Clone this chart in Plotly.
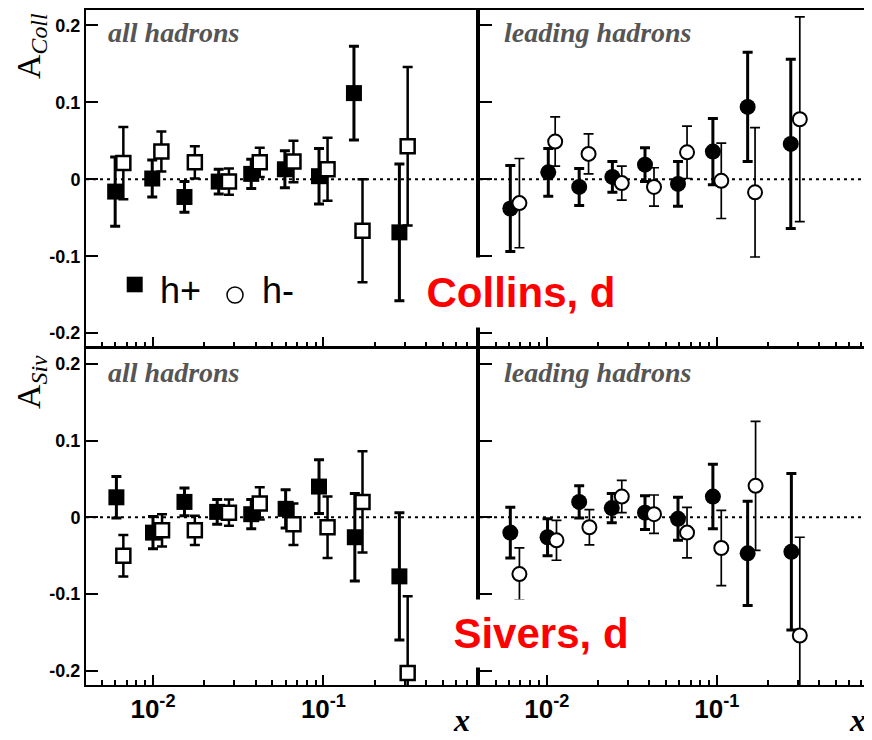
import plotly.graph_objects as go

# ---------------- data ----------------
# Collins asymmetry, all hadrons (squares)
coll_all_x_pos = [0.0060, 0.0099, 0.0153, 0.0243, 0.0377, 0.0594, 0.0942, 0.151, 0.279]
coll_all_y_pos = [-0.016, 0.001, -0.023, -0.003, 0.007, 0.013, 0.004, 0.112, -0.069]
coll_all_e_pos = [0.045, 0.024, 0.020, 0.016, 0.019, 0.024, 0.036, 0.061, 0.089]
coll_all_x_neg = [0.0067, 0.0112, 0.0176, 0.0279, 0.0423, 0.0667, 0.1057, 0.1695, 0.312]
coll_all_y_neg = [0.021, 0.036, 0.022, -0.003, 0.022, 0.023, 0.013, -0.067, 0.043]
coll_all_e_neg = [0.047, 0.026, 0.021, 0.017, 0.019, 0.027, 0.041, 0.067, 0.103]

# Collins asymmetry, leading hadrons (circles)
coll_lead_x_pos = [0.0061, 0.0102, 0.0155, 0.0243, 0.0378, 0.0591, 0.0948, 0.1518, 0.2722]
coll_lead_y_pos = [-0.038, 0.009, -0.010, 0.003, 0.019, -0.006, 0.036, 0.094, 0.046]
coll_lead_e_pos = [0.056, 0.031, 0.024, 0.020, 0.022, 0.029, 0.043, 0.071, 0.110]
coll_lead_x_neg = [0.0069, 0.0112, 0.0176, 0.0276, 0.0427, 0.0668, 0.1062, 0.1678, 0.3076]
coll_lead_y_neg = [-0.031, 0.049, 0.033, -0.005, -0.010, 0.035, -0.002, -0.017, 0.078]
coll_lead_e_neg = [0.058, 0.032, 0.026, 0.022, 0.025, 0.034, 0.049, 0.084, 0.133]

# Sivers asymmetry, all hadrons (squares)
siv_all_x_pos = [0.0061, 0.0100, 0.0153, 0.0238, 0.0377, 0.0600, 0.0942, 0.1528, 0.279]
siv_all_y_pos = [0.026, -0.020, 0.020, 0.007, 0.004, 0.011, 0.040, -0.026, -0.077]
siv_all_e_pos = [0.027, 0.021, 0.018, 0.016, 0.019, 0.025, 0.035, 0.057, 0.083]
siv_all_x_neg = [0.0067, 0.0113, 0.0176, 0.0279, 0.0423, 0.0667, 0.1057, 0.1695, 0.312]
siv_all_y_neg = [-0.050, -0.017, -0.017, 0.006, 0.018, -0.009, -0.013, 0.020, -0.203]
siv_all_e_neg = [0.027, 0.021, 0.019, 0.017, 0.021, 0.027, 0.040, 0.066, 0.100]

# Sivers asymmetry, leading hadrons (circles)
siv_lead_x_pos = [0.0061, 0.0101, 0.0155, 0.0241, 0.0378, 0.0591, 0.0948, 0.1518, 0.2744]
siv_lead_y_pos = [-0.020, -0.026, 0.020, 0.012, 0.006, -0.002, 0.027, -0.047, -0.045]
siv_lead_e_pos = [0.033, 0.024, 0.021, 0.019, 0.022, 0.028, 0.042, 0.068, 0.102]
siv_lead_x_neg = [0.0069, 0.0114, 0.0178, 0.0276, 0.0427, 0.0668, 0.1062, 0.169, 0.3076]
siv_lead_y_neg = [-0.074, -0.030, -0.013, 0.027, 0.004, -0.020, -0.040, 0.041, -0.154]
siv_lead_e_neg = [0.034, 0.026, 0.023, 0.021, 0.025, 0.033, 0.049, 0.084, 0.128]

y_tick_vals = [-0.2, -0.1, 0, 0.1, 0.2]
y_tick_text = ["-0.2", "-0.1", "0", "0.1", "0.2"]
x_tick_vals = [0.01, 0.1]
x_tick_text = ["10<sup>-2</sup>", "10<sup>-1</sup>"]
x_minor_vals = [0.004, 0.005, 0.006, 0.007, 0.008, 0.009,
                0.02, 0.03, 0.04, 0.05, 0.06, 0.07, 0.08, 0.09,
                0.2, 0.3, 0.4, 0.5, 0.6, 0.7]

panel_labels = ["all hadrons", "leading hadrons", "all hadrons", "leading hadrons"]

# ---------------- layout helpers ----------------
# the page body has an 8px margin: figure is placed at (8, 8) in the window
OFF = 8
W, H = 864, 732


def fx(p):
    return (p - OFF) / W


def fy(p):
    return 1 - (p - OFF) / H


fig = go.Figure()

panels = [
    ("", True, coll_all_x_pos, coll_all_y_pos, coll_all_e_pos, coll_all_x_neg, coll_all_y_neg, coll_all_e_neg),
    ("2", False, coll_lead_x_pos, coll_lead_y_pos, coll_lead_e_pos, coll_lead_x_neg, coll_lead_y_neg, coll_lead_e_neg),
    ("3", True, siv_all_x_pos, siv_all_y_pos, siv_all_e_pos, siv_all_x_neg, siv_all_y_neg, siv_all_e_neg),
    ("4", False, siv_lead_x_pos, siv_lead_y_pos, siv_lead_e_pos, siv_lead_x_neg, siv_lead_y_neg, siv_lead_e_neg),
]

for suf, sq, xp, yp, ep, xn, yn, en in panels:
    sym = "square" if sq else "circle"
    fig.add_trace(go.Scatter(
        x=xp, y=yp, mode="markers", xaxis="x" + suf, yaxis="y" + suf,
        marker=dict(symbol=sym, size=16, color="black", line=dict(width=0)),
        error_y=dict(type="data", array=ep, visible=True, color="black", thickness=3, width=5),
        showlegend=False))
    fig.add_trace(go.Scatter(
        x=xn, y=yn, mode="markers", xaxis="x" + suf, yaxis="y" + suf,
        marker=dict(symbol=sym, size=14, color="white",
                    line=dict(width=2.5 if sq else 2, color="black")),
        error_y=dict(type="data", array=en, visible=True, color="black",
                     thickness=2.5 if sq else 1.7, width=5),
        showlegend=False))

xdoms = {"L": [fx(86), fx(476)], "R": [fx(480), fx(869)]}
ydoms = {"T": [fy(347), fy(10)], "B": [fy(685), fy(348)]}
yranges = {"T": [-0.218, 0.22], "B": [-0.2185, 0.2205]}

cfg = {"": ("L", "T"), "2": ("R", "T"), "3": ("L", "B"), "4": ("R", "B")}

layout = {}
for suf, (cx, cy) in cfg.items():
    layout["xaxis" + suf] = dict(
        type="log", range=[-2.393, -0.105], domain=xdoms[cx], anchor="y" + suf,
        showline=True, linewidth=2, linecolor="black", mirror=True,
        ticks="inside", ticklen=10, tickwidth=2, tickcolor="black",
        tickmode="array", tickvals=x_tick_vals, ticktext=x_tick_text,
        showticklabels=(cy == "B"),
        tickfont=dict(family="Liberation Sans", size=26, color="black", weight="bold"),
        minor=dict(tickmode="array", tickvals=x_minor_vals, ticks="inside", ticklen=5,
                   tickwidth=2, tickcolor="black", showgrid=False),
        showgrid=False, zeroline=False, fixedrange=True)
    layout["yaxis" + suf] = dict(
        range=yranges[cy], domain=ydoms[cy], anchor="x" + suf,
        showline=True, linewidth=2, linecolor="black", mirror=True,
        ticks="inside", ticklen=12, tickwidth=2, tickcolor="black",
        tickmode="array", tickvals=y_tick_vals, ticktext=y_tick_text,
        showticklabels=(cx == "L"),
        tickfont=dict(family="Liberation Sans", size=18, color="black", weight="bold"),
        showgrid=False, zeroline=False, fixedrange=True)

shapes = []
for suf in cfg:
    shapes.append(dict(type="line", xref=("x" + suf + " domain") if suf else "x domain",
                       yref="y" + suf, x0=0, x1=1, y0=0, y1=0, layer="below",
                       line=dict(color="black", width=2, dash="3px,4px")))

# legend symbols
shapes.append(dict(type="rect", xref="paper", yref="paper",
                   x0=fx(126.7), x1=fx(142.7), y0=fy(292.3), y1=fy(276.7),
                   fillcolor="black", line=dict(width=0)))
shapes.append(dict(type="circle", xref="paper", yref="paper",
                   x0=fx(227), x1=fx(243), y0=fy(303), y1=fy(287),
                   fillcolor="white", line=dict(width=1.5, color="black")))

annotations = []
label_pos = [(106, 33), (502, 33), (106, 372), (502, 372)]
for txt, (lx, ly) in zip(panel_labels, label_pos):
    annotations.append(dict(text=txt, xref="paper", yref="paper", x=fx(lx), y=fy(ly),
                            xanchor="left", yanchor="middle", showarrow=False,
                            font=dict(family="Liberation Serif", size=28, color="#555555",
                                      weight="bold", style="italic")))

# legend text
annotations.append(dict(text="h+", xref="paper", yref="paper", x=fx(158), y=fy(291),
                        xanchor="left", yanchor="middle", showarrow=False,
                        font=dict(family="Liberation Sans", size=36, color="black")))
annotations.append(dict(text="h-", xref="paper", yref="paper", x=fx(260), y=fy(291),
                        xanchor="left", yanchor="middle", showarrow=False,
                        font=dict(family="Liberation Sans", size=36, color="black")))

# red labels with white boxes
annotations.append(dict(text="Collins, d", xref="paper", yref="paper", x=fx(521), y=fy(292.5),
                        xanchor="center", yanchor="middle", showarrow=False,
                        width=200, height=69, borderpad=0, bgcolor="white",
                        font=dict(family="Liberation Sans", size=42, color="#ff0000", weight="bold")))
annotations.append(dict(text="Sivers, d", xref="paper", yref="paper", x=fx(541), y=fy(633.5),
                        xanchor="center", yanchor="middle", showarrow=False,
                        width=186, height=67, borderpad=0, bgcolor="white",
                        font=dict(family="Liberation Sans", size=42, color="#ff0000", weight="bold")))

# y axis titles
annotations.append(dict(text="A<sub><i>Coll</i></sub>", xref="paper", yref="paper",
                        x=fx(31), y=fy(46), xanchor="center", yanchor="middle",
                        textangle=-90, showarrow=False,
                        font=dict(family="Liberation Serif", size=34, color="black")))
annotations.append(dict(text="A<sub><i>Siv</i></sub>", xref="paper", yref="paper",
                        x=fx(31), y=fy(382), xanchor="center", yanchor="middle",
                        textangle=-90, showarrow=False,
                        font=dict(family="Liberation Serif", size=34, color="black")))

# x axis titles
for ax_x in (461, 857):
    annotations.append(dict(text="x", xref="paper", yref="paper", x=fx(ax_x), y=0,
                            xanchor="center", yanchor="bottom", showarrow=False,
                            font=dict(family="Liberation Serif", size=32, color="black",
                                      weight="bold", style="italic")))

fig.update_layout(
    width=W, height=H, margin=dict(l=0, r=0, t=0, b=0),
    paper_bgcolor="white", plot_bgcolor="white", showlegend=False,
    shapes=shapes, annotations=annotations, **layout)

fig.write_html("out.html")
